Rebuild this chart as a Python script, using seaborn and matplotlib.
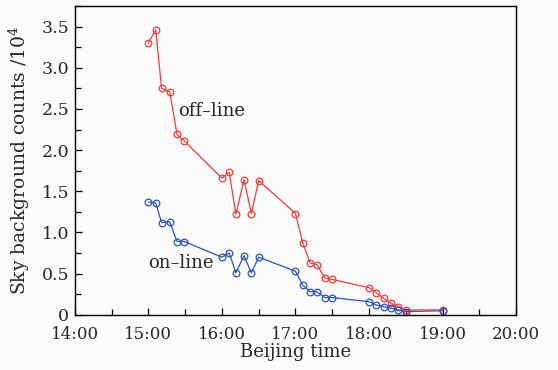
import matplotlib
matplotlib.use("Agg")
import matplotlib.pyplot as plt
import matplotlib.ticker as mticker
import seaborn as sns
import pandas as pd

# Times in decimal hours (Beijing time)
time_h = [15.00, 15.10, 15.18, 15.29, 15.39, 15.49,
          16.00, 16.10, 16.19, 16.30, 16.40, 16.50,
          17.00, 17.10, 17.20, 17.29, 17.40, 17.50,
          18.00, 18.10, 18.20, 18.30, 18.40, 18.50,
          19.00]
offline = [3.30, 3.46, 2.75, 2.71, 2.19, 2.11,
           1.66, 1.73, 1.22, 1.64, 1.23, 1.63,
           1.23, 0.87, 0.63, 0.61, 0.45, 0.43,
           0.33, 0.27, 0.20, 0.14, 0.10, 0.06,
           0.06]
online = [1.37, 1.36, 1.12, 1.13, 0.89, 0.89,
          0.70, 0.75, 0.51, 0.72, 0.51, 0.70,
          0.53, 0.36, 0.28, 0.28, 0.21, 0.21,
          0.16, 0.12, 0.10, 0.08, 0.06, 0.04,
          0.05]
xtick_vals = [14, 15, 16, 17, 18, 19, 20]
xtick_labels = ["14:00", "15:00", "16:00", "17:00", "18:00", "19:00", "20:00"]
ytick_vals = [0, 0.5, 1.0, 1.5, 2.0, 2.5, 3.0, 3.5]
ytick_labels = ["0", "0.5", "1.0", "1.5", "2.0", "2.5", "3.0", "3.5"]

df_off = pd.DataFrame({"t": time_h, "v": offline})
df_on = pd.DataFrame({"t": time_h, "v": online})

sns.set_style("ticks")
plt.rcParams["font.family"] = ["DejaVu Serif"]
plt.rcParams["mathtext.fontset"] = "dejavuserif"

fig = plt.figure(figsize=(5.58, 3.70), dpi=100, facecolor="#fbfbfb")
ax = fig.add_axes([0.134, 0.149, 0.791, 0.835])
ax.set_facecolor("#fbfbfb")

red = "#f43a3a"
blue = "#2c54b2"
common = dict(marker="o", markersize=4.8, markerfacecolor="none",
              markeredgewidth=0.9, linewidth=0.9, estimator=None)
sns.lineplot(data=df_off, x="t", y="v", ax=ax, color=red,
             markeredgecolor=red, **common)
sns.lineplot(data=df_on, x="t", y="v", ax=ax, color=blue,
             markeredgecolor=blue, **common)

ax.set_xlim(14, 20)
ax.set_ylim(0, 3.75)
ax.set_xticks(xtick_vals)
ax.set_xticklabels(xtick_labels)
ax.set_yticks(ytick_vals)
ax.set_yticklabels(ytick_labels)
ax.xaxis.set_minor_locator(mticker.MultipleLocator(0.5))
ax.yaxis.set_minor_locator(mticker.MultipleLocator(0.25))
ax.tick_params(axis="both", which="both", direction="in",
               color="black", width=0.9)
ax.tick_params(axis="y", labelsize=12.5, pad=4)
ax.tick_params(axis="x", labelsize=12, pad=8)
ax.tick_params(which="major", length=5)
ax.tick_params(which="minor", length=4)
for s in ax.spines.values():
    s.set_visible(True)
    s.set_linewidth(1.0)
    s.set_color("black")

ax.set_xlabel("Beijing time", fontsize=13, labelpad=0)
ax.set_ylabel("Sky background counts /10$^4$", fontsize=13.5, labelpad=7)

ax.text(15.40, 2.47, "off\u2013line", fontsize=13, ha="left", va="center")
ax.text(15.00, 0.63, "on\u2013line", fontsize=13, ha="left", va="center")

fig.savefig("out.png", dpi=100, facecolor=fig.get_facecolor())
